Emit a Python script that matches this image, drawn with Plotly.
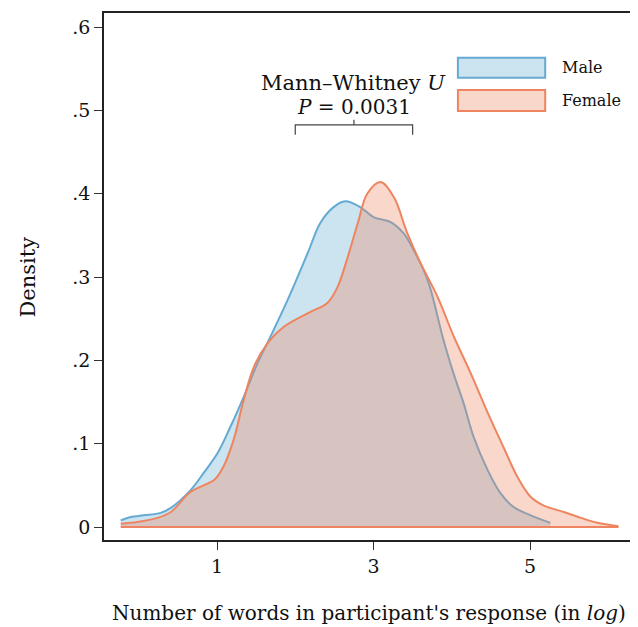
import plotly.graph_objects as go

# ---- data ----
male_x = [-0.23, -0.10, 0.06, 0.28, 0.41, 0.66, 0.83, 1.01, 1.17, 1.34, 1.52, 1.68, 1.90,
          2.16, 2.32, 2.49, 2.64, 2.83, 3.00, 3.22, 3.38, 3.51, 3.69, 3.89, 4.02, 4.15,
          4.28, 4.46, 4.62, 4.79, 5.01, 5.26]
male_y = [0.008, 0.012, 0.014, 0.017, 0.023, 0.044, 0.065, 0.089, 0.120, 0.156, 0.197,
          0.228, 0.272, 0.329, 0.365, 0.384, 0.391, 0.384, 0.372, 0.366, 0.353, 0.333,
          0.297, 0.226, 0.185, 0.149, 0.108, 0.068, 0.041, 0.024, 0.014, 0.005]

female_x = [-0.23, -0.02, 0.24, 0.41, 0.66, 0.83, 0.96, 1.08, 1.21, 1.34, 1.47, 1.65, 1.85,
            2.19, 2.41, 2.54, 2.67, 2.80, 2.92, 3.09, 3.26, 3.43, 3.60, 3.82, 4.02, 4.24,
            4.46, 4.66, 4.84, 5.01, 5.17, 5.43, 5.65, 5.86, 6.13]
female_y = [0.004, 0.006, 0.011, 0.018, 0.042, 0.050, 0.056, 0.072, 0.104, 0.152, 0.192,
            0.221, 0.240, 0.258, 0.269, 0.288, 0.324, 0.365, 0.400, 0.414, 0.396, 0.353,
            0.317, 0.276, 0.230, 0.185, 0.137, 0.096, 0.060, 0.036, 0.026, 0.018, 0.011,
            0.005, 0.001]

series_names = ["Male", "Female"]
x_tick_vals = [1, 3, 5]
x_tick_text = ["1", "3", "5"]
y_tick_vals = [0, 0.1, 0.2, 0.3, 0.4, 0.5, 0.6]
y_tick_text = ["0", ".1", ".2", ".3", ".4", ".5", ".6"]

x_title = "Number of words in participant's response (in <i>log</i>)"
y_title = "Density"
test_line1 = "Mann\u2013Whitney <i>U</i>"
test_line2 = "<i>P</i> = 0.0031"
bracket_from, bracket_to = 2.0, 3.5

# ---- style ----
FONT = "DejaVu Serif"
TXT = "#111"
blue_line = "rgb(100,170,210)"
blue_fill = "rgba(100,170,210,0.33)"
orange_line = "rgb(238,133,96)"
orange_fill = "rgba(238,133,96,0.33)"

fig = go.Figure()
fig.add_trace(go.Scatter(x=male_x, y=male_y, mode="lines", fill="tozeroy",
                         line=dict(color=blue_line, width=2, shape="spline", smoothing=1.0),
                         fillcolor=blue_fill, name=series_names[0], showlegend=False))
fig.add_trace(go.Scatter(x=female_x, y=female_y, mode="lines", fill="tozeroy",
                         line=dict(color=orange_line, width=2, shape="spline", smoothing=1.0),
                         fillcolor=orange_fill, name=series_names[1], showlegend=False))
# baseline of the female density
fig.add_trace(go.Scatter(x=[female_x[0], female_x[-1]], y=[0, 0], mode="lines",
                         line=dict(color=orange_line, width=2), showlegend=False,
                         hoverinfo="skip"))

# bracket
mid = (bracket_from + bracket_to) / 2
fig.add_shape(type="path",
              path=f"M {bracket_from} 0.471 L {bracket_from} 0.4826 L {bracket_to} 0.4826 L {bracket_to} 0.471",
              xref="x", yref="y", line=dict(color="#444", width=1.2))
fig.add_shape(type="line", x0=mid, x1=mid, y0=0.4826, y1=0.489, xref="x", yref="y",
              line=dict(color="#444", width=1.2))
fig.add_annotation(x=mid, y=0.533, xref="x", yref="y", text=test_line1, showarrow=False,
                   font=dict(family=FONT, size=21, color=TXT))
fig.add_annotation(x=mid, y=0.504, xref="x", yref="y", text=test_line2, showarrow=False,
                   font=dict(family=FONT, size=20, color=TXT))

# legend drawn manually
legend_rows = [(0.915, 0.877, blue_line, blue_fill), (0.854, 0.814, orange_line, orange_fill)]
for (y1, y0, lc, fc), name in zip(legend_rows, series_names):
    fig.add_shape(type="rect", xref="paper", yref="paper", x0=0.669, x1=0.834, y0=y0, y1=y1,
                  line=dict(color=lc, width=2), fillcolor=fc)
    fig.add_annotation(xref="paper", yref="paper", x=0.862, y=(y0 + y1) / 2, text=name,
                       showarrow=False, xanchor="left", yanchor="middle",
                       font=dict(family=FONT, size=16, color=TXT))

# axis titles
fig.add_annotation(xref="paper", yref="paper", x=0.5, y=-0.1385, text=x_title,
                   showarrow=False, xanchor="center", yanchor="middle",
                   font=dict(family=FONT, size=20, color=TXT))
fig.add_annotation(xref="paper", yref="paper", x=-0.1437, y=0.5, text=y_title,
                   showarrow=False, textangle=-90, xanchor="center", yanchor="middle",
                   font=dict(family=FONT, size=21, color=TXT))

axis_common = dict(showline=True, mirror=True, linecolor="#222", linewidth=1.6,
                   ticks="outside", ticklen=8, tickcolor="#333", tickwidth=1.2,
                   showgrid=False, zeroline=False, automargin=False,
                   tickfont=dict(family=FONT, size=19, color=TXT))
fig.update_xaxes(range=[-0.444, 6.316], tickvals=x_tick_vals, ticktext=x_tick_text,
                 **axis_common)
fig.update_yaxes(range=[-0.0156, 0.617], tickvals=y_tick_vals, ticktext=y_tick_text,
                 **axis_common)

# the page body adds an 8 px offset, so the figure is 8 px smaller on each side
fig.update_layout(width=630, height=619, margin=dict(l=96, r=5, t=5, b=87),
                  paper_bgcolor="white", plot_bgcolor="white", showlegend=False,
                  font=dict(family=FONT))

fig.write_html("out.html")
